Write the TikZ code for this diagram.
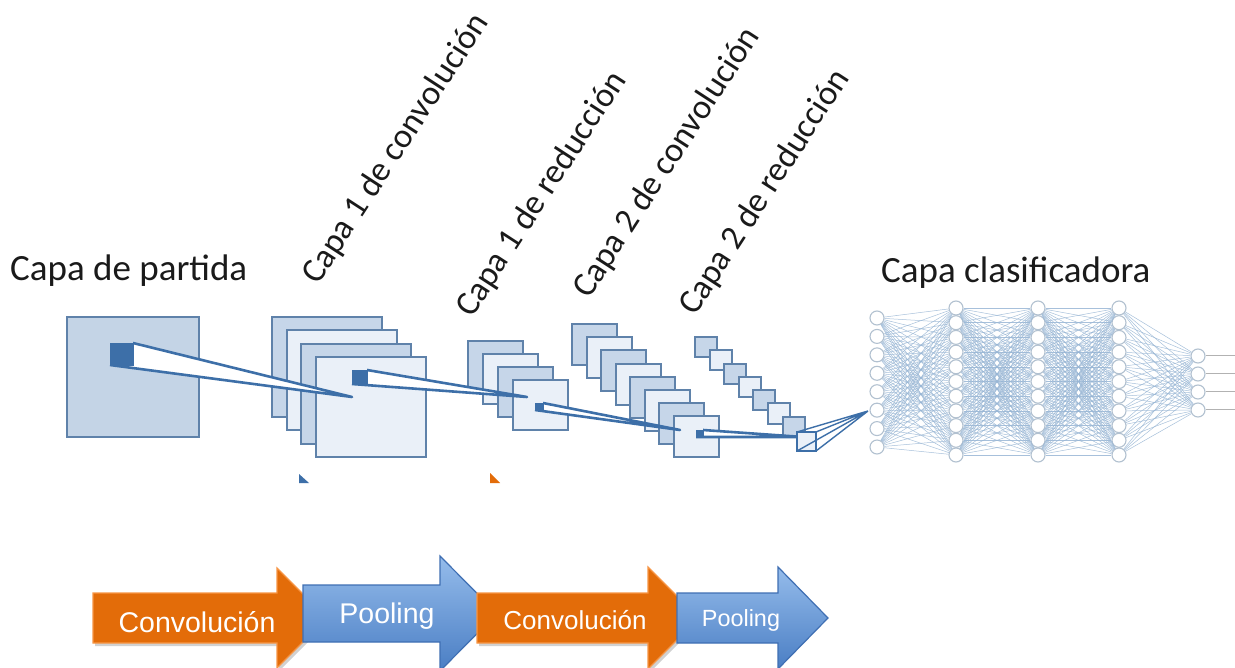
\documentclass[tikz,border=0pt]{standalone}
\usepackage{fontspec}
\setmainfont{Carlito}
\newfontfamily\arrowfont{Liberation Sans}
\usetikzlibrary{calc}

\definecolor{ink}{HTML}{1A1A1A}
\definecolor{mapEdge}{HTML}{5F82AA}
\definecolor{mapDark}{HTML}{C6D6E9}
\definecolor{mapLight}{HTML}{EAF0F8}
\definecolor{inputFill}{HTML}{C4D4E6}
\definecolor{kernel}{HTML}{3D6FA8}
\definecolor{neuronEdge}{HTML}{B2C1D0}
\definecolor{synapseCol}{HTML}{98B6D5}
\definecolor{convOrange}{HTML}{E36C09}
\definecolor{convEdge}{HTML}{F79646}
\definecolor{poolTop}{HTML}{95BCEB}
\definecolor{poolBottom}{HTML}{4A7EC4}
\definecolor{poolEdge}{HTML}{3F6FB3}

\tikzset{
  lbl/.style={text=ink, inner sep=0pt, anchor=base west, font=\fontsize{37}{40}\selectfont},
  vlbl/.style={text=ink, inner sep=0pt, anchor=base west, rotate=57, font=\fontsize{34.5}{38}\selectfont},
  fmap/.style={draw=mapEdge, line width=2pt},
  beam/.style={draw=kernel, fill=white, line width=2.6pt, line join=round},
  kern/.style={fill=kernel, draw=kernel, line width=0.8pt},
  neuron/.style={circle, draw=neuronEdge, line width=1.1pt, fill=white, minimum size=14pt, inner sep=0pt},
  synapse/.style={draw=synapseCol, line width=0.5pt, opacity=0.85},
  outwire/.style={draw=gray!60, line width=1pt},
  convarrow/.style={fill=convOrange, draw=convEdge, line width=1.2pt, line join=miter},
  poolarrow/.style={top color=poolTop, bottom color=poolBottom, draw=poolEdge, line width=1.2pt, line join=miter},
  arrowtext/.style={text=white, inner sep=0pt, anchor=base},
  shadowcopy/.style={fill=black, opacity=0.18, draw=none}
}

\begin{document}
\begin{tikzpicture}[x=1pt, y=-1pt]
\useasboundingbox (0,0) rectangle (1235,668);
\fill[white] (0,0) rectangle (1235,668);

% ---------- titles ----------
\node[lbl] (tIn) at (10,281) {Capa de partida};
\node[lbl] (tCls) at (881,283) {Capa clasificadora};
\node[vlbl] (tC1) at (318,286) {Capa 1 de convolución};
\node[vlbl] (tP1) at (472,319) {Capa 1 de reducción};
\node[vlbl] (tC2) at (589,300) {Capa 2 de convolución};
\node[vlbl] (tP2) at (695,317) {Capa 2 de reducción};

% ---------- input image ----------
\draw[fill=inputFill, draw=mapEdge, line width=2.4pt] (67,317) rectangle (199,437);

% ---------- first convolution maps ----------
\foreach \k in {0,...,3}{
  \ifodd\k \def\mf{mapLight}\else \def\mf{mapDark}\fi
  \draw[fmap, fill=\mf] ({272+14.5*\k},{317+13.3*\k}) rectangle ++(110,100);
}

% ---------- first pooling maps ----------
\foreach \k in {0,...,3}{
  \ifodd\k \def\mf{mapLight}\else \def\mf{mapDark}\fi
  \draw[fmap, fill=\mf] ({468+15*\k},{341+13*\k}) rectangle ++(55,50);
}

% ---------- second convolution maps ----------
\foreach \k in {0,...,7}{
  \ifodd\k \def\mf{mapLight}\else \def\mf{mapDark}\fi
  \draw[fmap, fill=\mf] ({572+14.5*\k},{324+13.2*\k}) rectangle ++(45,41);
}

% ---------- second pooling maps ----------
\foreach \k in {0,...,6}{
  \ifodd\k \def\mf{mapLight}\else \def\mf{mapDark}\fi
  \draw[fmap, fill=\mf] ({695+14.6*\k},{337+13.3*\k}) rectangle ++(22,20);
}

% ---------- receptive-field beams ----------
\coordinate (apex1) at (352,397);
\coordinate (apex2) at (527,397);
\coordinate (apex3) at (680,430);
\coordinate (apex4) at (803,437);
\coordinate (apex5) at (868,411);

\draw[beam] (133,343) -- (apex1) -- (110,365);
\draw[kern] (110,343) rectangle (133,365);

\draw[beam] (367,370) -- (apex2) -- (352,384);
\draw[kern] (352,370) rectangle (367,384);

\draw[beam] (543,403) -- (apex3) -- (535,410);
\draw[kern] (535,403) rectangle (543,410);

\draw[beam] (703,430) -- (apex4) -- (696,437);
\draw[kern] (696,430) rectangle (703,437);

% last pooling cell as a wire box fanning out to the classifier
\draw[draw=kernel, line width=1.6pt, fill=mapLight] (797,432) rectangle (816,451);
\draw[draw=kernel, line width=1.4pt] (797,432) -- (apex5) (816,432) -- (apex5) (816,451) -- (apex5) (797,451) -- (apex5);

% ---------- classifier network ----------
\foreach \i in {1,...,8}  \node[neuron] (a\i) at (877,{318+(\i-1)*18.43}) {};
\foreach \i in {1,...,11} \node[neuron] (b\i) at (956,{308+(\i-1)*14.7}) {};
\foreach \i in {1,...,11} \node[neuron] (c\i) at (1038,{308+(\i-1)*14.7}) {};
\foreach \i in {1,...,11} \node[neuron] (d\i) at (1119,{308+(\i-1)*14.7}) {};
\foreach \i in {1,...,4}  \node[neuron] (e\i) at (1198,{356+(\i-1)*18}) {};

\foreach \i in {1,...,8}  \foreach \j in {1,...,11} \draw[synapse] (a\i) -- (b\j);
\foreach \i in {1,...,11} \foreach \j in {1,...,11} \draw[synapse] (b\i) -- (c\j);
\foreach \i in {1,...,11} \foreach \j in {1,...,11} \draw[synapse] (c\i) -- (d\j);
\foreach \i in {1,...,11} \foreach \j in {1,...,4}  \draw[synapse] (d\i) -- (e\j);

\foreach \i in {1,...,4}{
  \coordinate (o\i) at (1235,{356+(\i-1)*18});
  \draw[outwire] (e\i) -- (o\i);
}

% small cut-off arrow tips below the maps
\fill[kernel] (299,474) -- (309,483) -- (299,483) -- cycle;
\fill[convOrange] (490,473) -- (500,483) -- (490,483) -- cycle;

% ---------- processing pipeline ----------
\fill[shadowcopy] (95,596) -- (279,596) -- (279,571) -- (329,621) -- (279,671) -- (279,646) -- (95,646) -- cycle;
\draw[convarrow] (93,593) -- (277,593) -- (277,568) -- (327,618) -- (277,668) -- (277,643) -- (93,643) -- cycle;
\node[arrowtext, font=\arrowfont\fontsize{28.5}{30}\selectfont] (s1) at (197,632) {Convolución};

\draw[poolarrow] (303,585) -- (440,585) -- (440,556) -- (497,613.5) -- (440,671) -- (440,642) -- (303,642) -- cycle;
\node[arrowtext, font=\arrowfont\fontsize{28.5}{30}\selectfont] (s2) at (387,623) {Pooling};

\fill[shadowcopy] (479,596) -- (650,596) -- (650,570) -- (701,621) -- (650,672) -- (650,646) -- (479,646) -- cycle;
\draw[convarrow] (477,593) -- (648,593) -- (648,567) -- (699,618) -- (648,669) -- (648,643) -- (477,643) -- cycle;
\node[arrowtext, font=\arrowfont\fontsize{26}{28}\selectfont] (s3) at (575,629) {Convolución};

\draw[poolarrow] (677,593) -- (778,593) -- (778,567) -- (828,618) -- (778,669) -- (778,643) -- (677,643) -- cycle;
\node[arrowtext, font=\arrowfont\fontsize{23.4}{25}\selectfont] (s4) at (741,626) {Pooling};
\end{tikzpicture}
\end{document}
